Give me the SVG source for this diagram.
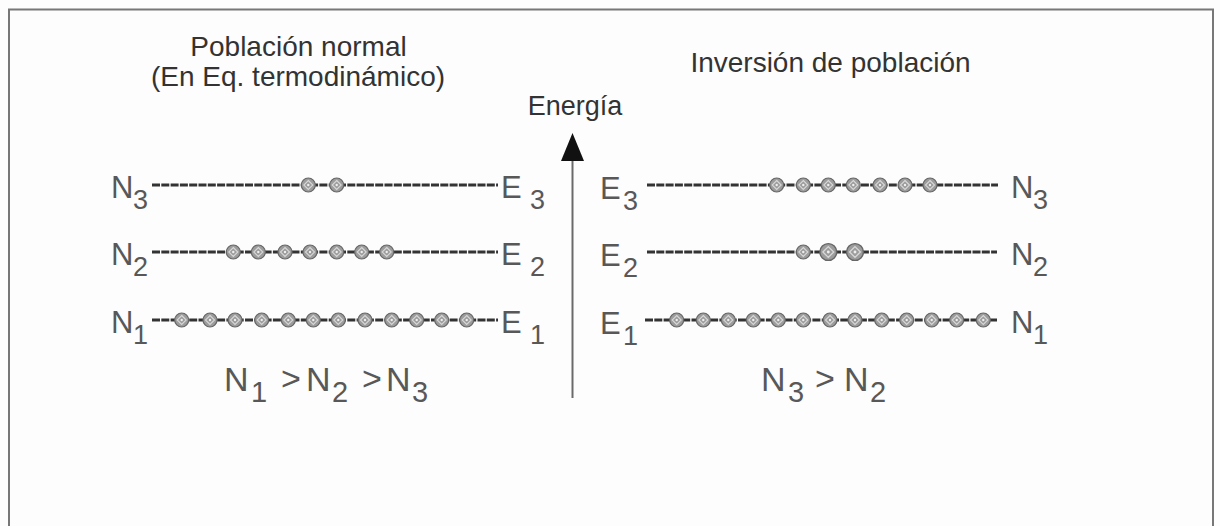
<svg xmlns="http://www.w3.org/2000/svg" width="1220" height="526" viewBox="0 0 1220 526">
<style>
.title{font-family:"Liberation Sans",Arial,sans-serif;font-size:28px;fill:#333;}
.lbl{font-family:"Liberation Sans",Arial,sans-serif;font-size:31px;fill:#585858;}
.sub{font-family:"Liberation Sans",Arial,sans-serif;font-size:27px;fill:#585858;}
.cmp{font-family:"Liberation Sans",Arial,sans-serif;font-size:34px;fill:#585858;}
.csub{font-family:"Liberation Sans",Arial,sans-serif;font-size:29px;fill:#585858;}
.level{stroke:#333;stroke-width:3.2;stroke-dasharray:8 1.3;fill:none;}
</style>
<defs>
<g id="p">
<circle r="7" fill="#9c9c9c" stroke="#666" stroke-width="1.2"/>
<path d="M0,-4.5 L4.5,0 L0,4.5 L-4.5,0Z" fill="none" stroke="#d8d8d8" stroke-width="1.1"/>
<circle r="1.2" fill="#eee"/>
</g>
</defs>
<rect x="0" y="0" width="1220" height="526" fill="#fdfdfd"/>
<rect x="9" y="9.5" width="1204" height="540" fill="none" stroke="#777" stroke-width="2"/>

<g id="titles">
<text class="title" x="298.5" y="56" text-anchor="middle">Población normal</text>
<text class="title" x="298" y="86" text-anchor="middle">(En Eq. termodinámico)</text>
<text class="title" x="830.5" y="72" text-anchor="middle">Inversión de población</text>
</g>

<g id="energy-axis">
<text class="title" x="575" y="115" text-anchor="middle" style="font-size:27px">Energía</text>
</g>

<g id="connectors">
<line x1="572.5" y1="158" x2="572.5" y2="398" stroke="#6a6a6a" stroke-width="2"/>
<polygon points="572.5,133 561,161 584,161" fill="#111"/>
</g>

<g id="left-N3">
<text class="lbl" x="111" y="198">N</text><text class="sub" x="133" y="209">3</text>
<line class="level" x1="152" y1="185" x2="498" y2="185"/>
<use href="#p" x="308.3" y="185"/><use href="#p" x="336.7" y="185"/>
<text class="lbl" x="501" y="198">E</text><text class="sub" x="530" y="209">3</text>
</g>
<g id="left-N2">
<text class="lbl" x="111" y="265">N</text><text class="sub" x="133" y="276">2</text>
<line class="level" x1="152" y1="252" x2="498" y2="252"/>
<use href="#p" x="233.3" y="252"/><use href="#p" x="258.3" y="252"/><use href="#p" x="285" y="252"/><use href="#p" x="310" y="252"/><use href="#p" x="336.7" y="252"/><use href="#p" x="361.7" y="252"/><use href="#p" x="386.7" y="252"/>
<text class="lbl" x="501" y="265">E</text><text class="sub" x="530" y="276">2</text>
</g>
<g id="left-N1">
<text class="lbl" x="111" y="333">N</text><text class="sub" x="133" y="344">1</text>
<line class="level" x1="152" y1="320" x2="498" y2="320"/>
<use href="#p" x="181.7" y="320"/><use href="#p" x="210" y="320"/><use href="#p" x="235" y="320"/><use href="#p" x="261.7" y="320"/><use href="#p" x="288.3" y="320"/><use href="#p" x="313.3" y="320"/><use href="#p" x="338.3" y="320"/><use href="#p" x="365" y="320"/><use href="#p" x="391.7" y="320"/><use href="#p" x="416.7" y="320"/><use href="#p" x="441.7" y="320"/><use href="#p" x="466.7" y="320"/>
<text class="lbl" x="501" y="333">E</text><text class="sub" x="530" y="344">1</text>
</g>
<g id="left-relation">
<text class="cmp" x="224" y="391">N</text><text class="csub" x="251" y="402">1</text>
<text class="cmp" x="281" y="390">&gt;</text>
<text class="cmp" x="306" y="391">N</text><text class="csub" x="332" y="402">2</text>
<text class="cmp" x="362" y="390">&gt;</text>
<text class="cmp" x="386" y="391">N</text><text class="csub" x="412" y="402">3</text>
</g>

<g id="right-E3">
<text class="lbl" x="600" y="199">E</text><text class="sub" x="623" y="210">3</text>
<line class="level" x1="647" y1="185" x2="998" y2="185"/>
<use href="#p" x="776.7" y="185"/><use href="#p" x="803.3" y="185"/><use href="#p" x="828.3" y="185"/><use href="#p" x="853.3" y="185"/><use href="#p" x="880" y="185"/><use href="#p" x="905" y="185"/><use href="#p" x="930" y="185"/>
<text class="lbl" x="1011" y="198">N</text><text class="sub" x="1033" y="209">3</text>
</g>
<g id="right-E2">
<text class="lbl" x="600" y="266">E</text><text class="sub" x="623" y="277">2</text>
<line class="level" x1="647" y1="252" x2="997" y2="252"/>
<use href="#p" x="803.3" y="252"/><use href="#p" x="828.3" y="252" transform="translate(828.3 252) scale(1.2) translate(-828.3 -252)"/><use href="#p" x="855" y="252" transform="translate(855 252) scale(1.2) translate(-855 -252)"/>
<text class="lbl" x="1011" y="265">N</text><text class="sub" x="1033" y="276">2</text>
</g>
<g id="right-E1">
<text class="lbl" x="600" y="334">E</text><text class="sub" x="623" y="345">1</text>
<line class="level" x1="645" y1="320" x2="997" y2="320"/>
<use href="#p" x="676.7" y="320"/><use href="#p" x="703.3" y="320"/><use href="#p" x="728.3" y="320"/><use href="#p" x="753.3" y="320"/><use href="#p" x="778.3" y="320"/><use href="#p" x="803.3" y="320"/><use href="#p" x="830" y="320"/><use href="#p" x="855" y="320"/><use href="#p" x="881.7" y="320"/><use href="#p" x="906.7" y="320"/><use href="#p" x="931.7" y="320"/><use href="#p" x="956.7" y="320"/><use href="#p" x="983.3" y="320"/>
<text class="lbl" x="1011" y="333">N</text><text class="sub" x="1033" y="344">1</text>
</g>
<g id="right-relation">
<text class="cmp" x="761" y="391">N</text><text class="csub" x="788" y="402">3</text>
<text class="cmp" x="815" y="390">&gt;</text>
<text class="cmp" x="844" y="391">N</text><text class="csub" x="870" y="402">2</text>
</g>
</svg>
